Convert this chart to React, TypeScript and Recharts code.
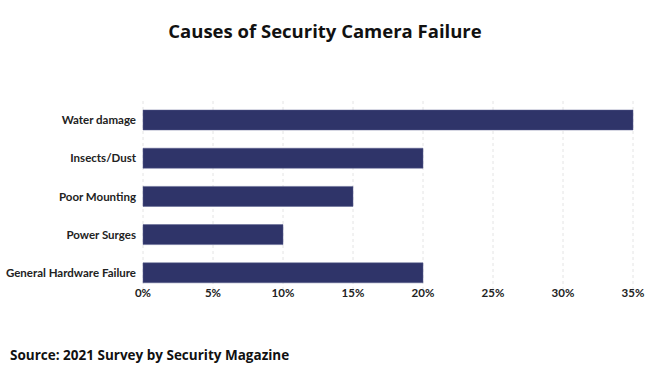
import { BarChart, Bar, XAxis, YAxis, CartesianGrid } from "recharts";

const causes = [
  "Water damage",
  "Insects/Dust",
  "Poor Mounting",
  "Power Surges",
  "General Hardware Failure",
];
const shares = [35, 20, 15, 10, 20];
const xTicks = [0, 5, 10, 15, 20, 25, 30, 35];

const data = causes.map((cause, i) => ({ cause, share: shares[i] }));

const font = "'Open Sans', 'DejaVu Sans', sans-serif";
const tickFont = "Lato, 'Open Sans', sans-serif";

// plain svg text so long labels don't get wrapped
function CauseTick(props: any) {
  const { x, y, payload } = props;
  return (
    <text
      x={x}
      y={y}
      dy={4}
      textAnchor="end"
      fontSize={11.5}
      fontWeight={700}
      fill="#222"
      fontFamily={tickFont}
    >
      {payload.value}
    </text>
  );
}

export default function App() {
  return (
    <div
      style={{
        position: "absolute",
        left: 0,
        top: 0,
        width: 650,
        height: 366,
        background: "#fff",
        fontFamily: font,
      }}
    >
      <div
        style={{
          position: "absolute",
          top: 18,
          left: 0,
          width: 650,
          textAlign: "center",
          fontSize: 18.5,
          fontWeight: 700,
          color: "#111",
        }}
      >
        Causes of Security Camera Failure
      </div>
      <BarChart
        width={650}
        height={366}
        data={data}
        layout="vertical"
        margin={{ top: 101, right: 17, bottom: 54, left: 0 }}
      >
        <CartesianGrid
          horizontal={false}
          strokeDasharray="3 3"
          stroke="#e4e4e4"
        />
        <XAxis
          type="number"
          domain={[0, 35]}
          ticks={xTicks}
          tickFormatter={(v) => `${v}%`}
          height={20}
          axisLine={false}
          tickLine={false}
          tickSize={0}
          tickMargin={0}
          tick={{ fontSize: 11.5, fontWeight: 700, fill: "#222", fontFamily: tickFont, dy: -3 }}
        />
        <YAxis
          type="category"
          dataKey="cause"
          width={143}
          axisLine={false}
          tickLine={false}
          tickSize={0}
          tickMargin={7}
          tick={<CauseTick />}
        />
        <Bar
          dataKey="share"
          fill="#2f3469"
          stroke="#5b5f8e"
          strokeWidth={0.5}
          barSize={20}
          isAnimationActive={false}
        />
      </BarChart>
      <div
        style={{
          position: "absolute",
          left: 10,
          top: 346,
          fontSize: 13.5,
          fontWeight: 700,
          color: "#111",
        }}
      >
        Source: 2021 Survey by Security Magazine
      </div>
    </div>
  );
}
